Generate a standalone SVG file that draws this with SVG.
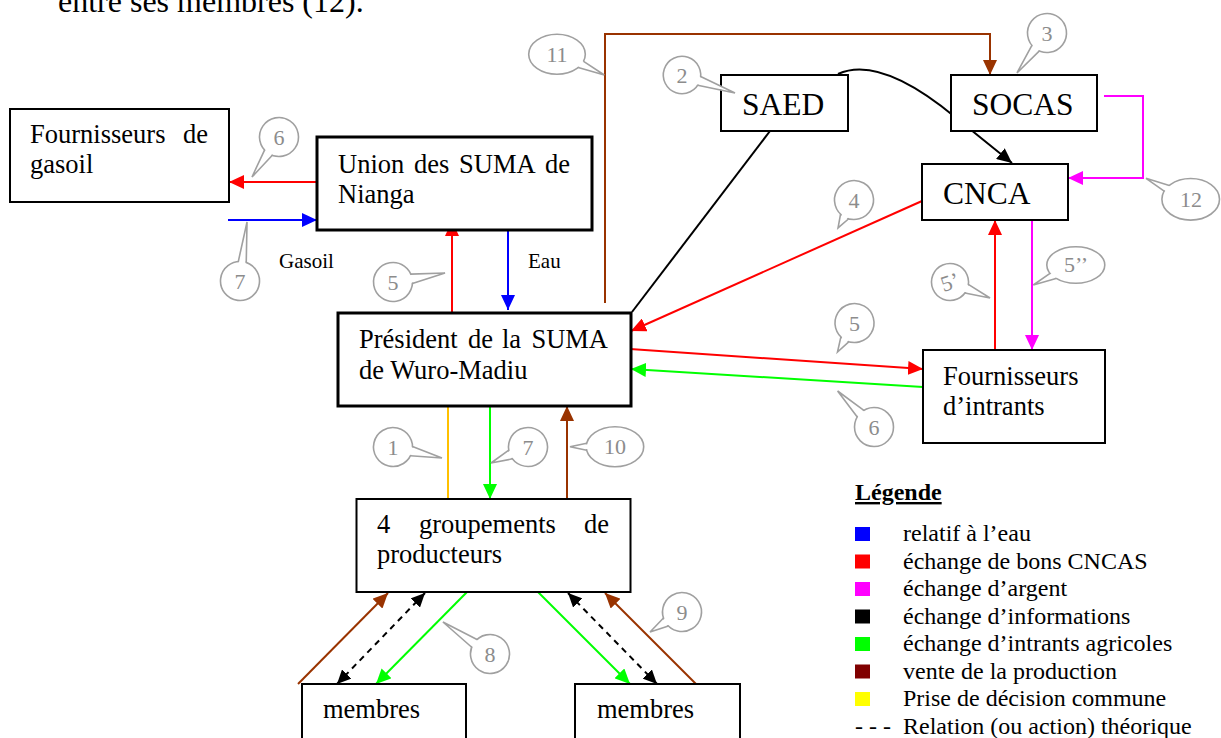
<svg xmlns="http://www.w3.org/2000/svg" width="1221" height="738" viewBox="0 0 1221 738">
<style>
  text { font-family: "Liberation Serif", "Times New Roman", serif; fill: #000; }
  .nt { font-size: 26.5px; }
  .bt { font-size: 31.5px; }
  .sm { font-size: 21px; }
  .lg { font-size: 24px; }
  .box { fill: #fff; stroke: #000; stroke-width: 2; }
  .thick { stroke-width: 3; }
  .cb { fill: #fff; stroke: #a0a0a0; stroke-width: 1.6; }
  .cf { fill: #fff; stroke: none; }
  .cl { fill: none; stroke: #a0a0a0; stroke-width: 1.6; stroke-linejoin: miter; }
  .cn { font-size: 22px; fill: #8c8c8c; text-anchor: middle; }
  .ln { fill: none; stroke-width: 2; }
</style>
<defs>
  <marker id="m-red" viewBox="0 0 15 14" refX="15" refY="7" markerWidth="15" markerHeight="14" markerUnits="userSpaceOnUse" orient="auto"><path d="M0,0L15,7L0,14z" fill="#FF0000"/></marker>
  <marker id="m-blue" viewBox="0 0 15 14" refX="15" refY="7" markerWidth="15" markerHeight="14" markerUnits="userSpaceOnUse" orient="auto"><path d="M0,0L15,7L0,14z" fill="#0000FF"/></marker>
  <marker id="m-mag" viewBox="0 0 15 14" refX="15" refY="7" markerWidth="15" markerHeight="14" markerUnits="userSpaceOnUse" orient="auto"><path d="M0,0L15,7L0,14z" fill="#FF00FF"/></marker>
  <marker id="m-grn" viewBox="0 0 15 14" refX="15" refY="7" markerWidth="15" markerHeight="14" markerUnits="userSpaceOnUse" orient="auto"><path d="M0,0L15,7L0,14z" fill="#00FF00"/></marker>
  <marker id="m-brn" viewBox="0 0 15 14" refX="15" refY="7" markerWidth="15" markerHeight="14" markerUnits="userSpaceOnUse" orient="auto"><path d="M0,0L15,7L0,14z" fill="#993300"/></marker>
  <marker id="m-blk" viewBox="0 0 15 14" refX="15" refY="7" markerWidth="15" markerHeight="14" markerUnits="userSpaceOnUse" orient="auto"><path d="M0,0L15,7L0,14z" fill="#000"/></marker>
  <marker id="m-blk2" viewBox="0 0 15 14" refX="15" refY="7" markerWidth="14" markerHeight="13" markerUnits="userSpaceOnUse" orient="auto-start-reverse"><path d="M0,0L15,7L0,14z" fill="#000"/></marker>
</defs>

<text x="58" y="12" style="font-size:32px">entre ses membres (12).</text>

<g id="connectors">
  <line class="ln" x1="317" y1="182" x2="229" y2="182" stroke="#FF0000" marker-end="url(#m-red)"/>
  <line class="ln" x1="228" y1="220" x2="317" y2="220" stroke="#0000FF" marker-end="url(#m-blue)"/>
  <line class="ln" x1="452" y1="313" x2="452" y2="221" stroke="#FF0000" marker-end="url(#m-red)"/>
  <line class="ln" x1="508" y1="229" x2="508" y2="310" stroke="#0000FF" marker-end="url(#m-blue)"/>
  <polyline class="ln" points="605,303 605,34 990,34 990,75" stroke="#993300" marker-end="url(#m-brn)"/>
  <line class="ln" x1="770" y1="131" x2="632" y2="312" stroke="#000" stroke-width="1.8"/>
  <path class="ln" d="M838,74 Q880,55 955,117 L1012,163" stroke="#000" stroke-width="1.8" marker-end="url(#m-blk)"/>
  <polyline class="ln" points="1104,96 1143,96 1143,178 1068,178" stroke="#FF00FF" marker-end="url(#m-mag)"/>
  <line class="ln" x1="922" y1="201" x2="631" y2="331" stroke="#FF0000" marker-end="url(#m-red)"/>
  <line class="ln" x1="630" y1="349" x2="923" y2="369" stroke="#FF0000" marker-end="url(#m-red)"/>
  <line class="ln" x1="923" y1="387" x2="631" y2="369" stroke="#00FF00" marker-end="url(#m-grn)"/>
  <line class="ln" x1="995" y1="350" x2="995" y2="220" stroke="#FF0000" marker-end="url(#m-red)"/>
  <line class="ln" x1="1032" y1="220" x2="1032" y2="350" stroke="#FF00FF" marker-end="url(#m-mag)"/>
  <line class="ln" x1="448" y1="406" x2="448" y2="499" stroke="#FFC000"/>
  <line class="ln" x1="490" y1="406" x2="490" y2="499" stroke="#00FF00" marker-end="url(#m-grn)"/>
  <line class="ln" x1="567" y1="499" x2="567" y2="406" stroke="#993300" marker-end="url(#m-brn)"/>
  <line class="ln" x1="298" y1="684" x2="388" y2="593" stroke="#993300" marker-end="url(#m-brn)"/>
  <line class="ln" x1="425" y1="593" x2="337" y2="684" stroke="#000" stroke-dasharray="6,5" marker-start="url(#m-blk2)" marker-end="url(#m-blk2)"/>
  <line class="ln" x1="467" y1="592" x2="376" y2="684" stroke="#00FF00" marker-end="url(#m-grn)"/>
  <line class="ln" x1="538" y1="592" x2="630" y2="684" stroke="#00FF00" marker-end="url(#m-grn)"/>
  <line class="ln" x1="568" y1="593" x2="657" y2="684" stroke="#000" stroke-dasharray="6,5" marker-start="url(#m-blk2)" marker-end="url(#m-blk2)"/>
  <line class="ln" x1="696" y1="684" x2="605" y2="593" stroke="#993300" marker-end="url(#m-brn)"/>
</g>

<g id="n-gasoil">
  <rect class="box" x="10" y="109" width="219" height="93"/>
  <text class="nt" x="30" y="143">Fournisseurs</text>
  <text class="nt" x="208" y="143" text-anchor="end">de</text>
  <text class="nt" x="30" y="173">gasoil</text>
</g>
<g id="n-union">
  <rect class="box thick" x="317" y="137" width="275" height="93"/>
  <text class="nt" x="338" y="173">Union</text>
  <text class="nt" x="414" y="173">des</text>
  <text class="nt" x="459" y="173">SUMA</text>
  <text class="nt" x="570" y="173" text-anchor="end">de</text>
  <text class="nt" x="338" y="203">Nianga</text>
</g>
<g id="n-president">
  <rect class="box thick" x="338" y="313" width="293" height="93"/>
  <text class="nt" x="359" y="348">Président</text>
  <text class="nt" x="468" y="348">de</text>
  <text class="nt" x="502" y="348">la</text>
  <text class="nt" x="608" y="348" text-anchor="end">SUMA</text>
  <text class="nt" x="359" y="379">de Wuro-Madiu</text>
</g>
<g id="n-saed">
  <rect class="box" x="721" y="75" width="127" height="56"/>
  <text class="bt" x="742" y="115">SAED</text>
</g>
<g id="n-socas">
  <rect class="box" x="951" y="75" width="146" height="56"/>
  <text class="bt" x="972" y="115">SOCAS</text>
</g>
<g id="n-cnca">
  <rect class="box" x="922" y="164" width="146" height="56"/>
  <text class="bt" x="943" y="204">CNCA</text>
</g>
<g id="n-intrants">
  <rect class="box" x="923" y="350" width="182" height="93"/>
  <text class="nt" x="943" y="385">Fournisseurs</text>
  <text class="nt" x="943" y="415">d’intrants</text>
</g>
<g id="n-groupements">
  <rect class="box" x="356.5" y="499" width="274" height="93"/>
  <text class="nt" x="377" y="533">4</text>
  <text class="nt" x="419" y="533">groupements</text>
  <text class="nt" x="609" y="533" text-anchor="end">de</text>
  <text class="nt" x="377" y="563">producteurs</text>
</g>
<g id="n-membres1">
  <rect class="box" x="302" y="684" width="164" height="80"/>
  <text class="nt" x="323" y="718">membres</text>
</g>
<g id="n-membres2">
  <rect class="box" x="575" y="684" width="165" height="80"/>
  <text class="nt" x="597" y="718">membres</text>
</g>

<g id="labels">
  <text class="sm" x="279" y="268">Gasoil</text>
  <text class="sm" x="528" y="268">Eau</text>
</g>

<g id="callouts">
  <g transform="translate(279,137)"><g transform="rotate(124)"><circle class="cb" r="19.5"/><polygon class="cf" points="15.5,-4.2 48.3,0 15.5,4.2"/><polyline class="cl" points="18.9,-4.7 48.3,0 18.9,4.7"/></g><text class="cn" y="7.5">6</text></g>
  <g transform="translate(240,281)"><g transform="rotate(-83.2)"><circle class="cb" r="19.5"/><polygon class="cf" points="15.5,-3.6 59.4,0 15.5,3.6"/><polyline class="cl" points="19.1,-4 59.4,0 19.1,4"/></g><text class="cn" y="7.5">7</text></g>
  <g transform="translate(393,282)"><g transform="rotate(-9.8)"><circle class="cb" r="19.5"/><polygon class="cf" points="15.5,-4.2 52.8,0 15.5,4.2"/><polyline class="cl" points="18.9,-4.7 52.8,0 18.9,4.7"/></g><text class="cn" y="7.5">5</text></g>
  <g transform="translate(682,75)"><g transform="rotate(18.8)"><circle class="cb" r="18.7"/><polygon class="cf" points="14.8,-4.2 56,0 14.8,4.2"/><polyline class="cl" points="18.1,-4.6 56,0 18.1,4.6"/></g><text class="cn" y="7.5">2</text></g>
  <g transform="translate(1047,33)"><g transform="rotate(126.9)"><circle class="cb" r="19.5"/><polygon class="cf" points="15.5,-4.2 50,0 15.5,4.2"/><polyline class="cl" points="18.9,-4.7 50,0 18.9,4.7"/></g><text class="cn" y="7.5">3</text></g>
  <g transform="translate(854,200)"><g transform="rotate(119.7)"><circle class="cb" r="19.5"/><polygon class="cf" points="15.5,-4.2 32.2,0 15.5,4.2"/><polyline class="cl" points="18.9,-4.7 32.2,0 18.9,4.7"/></g><text class="cn" y="7.5">4</text></g>
  <g transform="translate(950,282)"><g transform="rotate(21.8)"><circle class="cb" r="18.5"/><polygon class="cf" points="14.6,-4.2 43.1,0 14.6,4.2"/><polyline class="cl" points="17.9,-4.6 43.1,0 17.9,4.6"/></g><text class="cn" y="7.5" transform="rotate(-18)">5’</text></g>
  <g transform="translate(854.5,323)"><g transform="rotate(120.4)"><circle class="cb" r="19.5"/><polygon class="cf" points="15.5,-4.2 33.6,0 15.5,4.2"/><polyline class="cl" points="18.9,-4.7 33.6,0 18.9,4.7"/></g><text class="cn" y="7.5">5</text></g>
  <g transform="translate(874,427)"><g transform="rotate(-135.3)"><circle class="cb" r="19.5"/><polygon class="cf" points="15.5,-4.2 51.2,0 15.5,4.2"/><polyline class="cl" points="18.9,-4.7 51.2,0 18.9,4.7"/></g><text class="cn" y="7.5">6</text></g>
  <g transform="translate(393,447)"><g transform="rotate(12.7)"><circle class="cb" r="19.5"/><polygon class="cf" points="15.5,-4.2 50.2,0 15.5,4.2"/><polyline class="cl" points="18.9,-4.7 50.2,0 18.9,4.7"/></g><text class="cn" y="7.5">1</text></g>
  <g transform="translate(528,447)"><g transform="rotate(156.6)"><circle class="cb" r="19.5"/><polygon class="cf" points="15.5,-4.2 40.3,0 15.5,4.2"/><polyline class="cl" points="18.9,-4.7 40.3,0 18.9,4.7"/></g><text class="cn" y="7.5">7</text></g>
  <g transform="translate(490,654)"><g transform="rotate(-145.8)"><circle class="cb" r="19.5"/><polygon class="cf" points="15.5,-4.2 56.9,0 15.5,4.2"/><polyline class="cl" points="18.9,-4.7 56.9,0 18.9,4.7"/></g><text class="cn" y="7.5">8</text></g>
  <g transform="translate(682,612)"><g transform="rotate(148)"><circle class="cb" r="19.5"/><polygon class="cf" points="15.5,-4.2 37.7,0 15.5,4.2"/><polyline class="cl" points="18.9,-4.7 37.7,0 18.9,4.7"/></g><text class="cn" y="7.5">9</text></g>
  <g>
    <ellipse class="cb" cx="557" cy="54.3" rx="28.3" ry="20"/>
    <polygon class="cf" points="575.8,65.8 604.3,75 581.2,60.2"/>
    <polyline class="cl" points="578.2,67.6 604.3,75 583.6,61.3"/>
    <text class="cn" x="557" y="62">11</text>
  </g>
  <g>
    <ellipse class="cb" cx="615" cy="446.7" rx="28.7" ry="20"/>
    <polygon class="cf" points="589.5,449.5 570,446.7 589.5,443.9"/>
    <polyline class="cl" points="586.7,450.2 570,446.7 586.7,443.2"/>
    <text class="cn" x="615" y="454">10</text>
  </g>
  <g>
    <ellipse class="cb" cx="1190.7" cy="199.3" rx="28.8" ry="20.8"/>
    <polygon class="cf" points="1167.1,192.1 1146,178.3 1171.8,187"/>
    <polyline class="cl" points="1164.2,191.2 1146,178.3 1169.3,185.4"/>
    <text class="cn" x="1191" y="207">12</text>
  </g>
  <g>
    <ellipse class="cb" cx="1075.8" cy="265" rx="29" ry="18.3"/>
    <polygon class="cf" points="1058.5,276.7 1033.3,285 1052.9,272.4"/>
    <polyline class="cl" points="1056,278.4 1033.3,285 1050,273.3"/>
    <text class="cn" x="1076" y="272">5’’</text>
  </g>
</g>

<g id="legend">
  <text class="lg" x="855" y="500" font-weight="bold" text-decoration="underline">Légende</text>
  <rect x="855" y="527" width="15" height="14" fill="#0000FF"/>
  <text class="lg" x="903" y="541">relatif à l’eau</text>
  <rect x="855" y="554.5" width="15" height="14" fill="#FF0000"/>
  <text class="lg" x="903" y="568.5">échange de bons CNCAS</text>
  <rect x="855" y="582" width="15" height="14" fill="#FF00FF"/>
  <text class="lg" x="903" y="596">échange d’argent</text>
  <rect x="855" y="609.5" width="15" height="14" fill="#000000"/>
  <text class="lg" x="903" y="623.5">échange d’informations</text>
  <rect x="855" y="637" width="15" height="14" fill="#00FF00"/>
  <text class="lg" x="903" y="651">échange d’intrants agricoles</text>
  <rect x="855" y="664.5" width="15" height="14" fill="#800000"/>
  <text class="lg" x="903" y="678.5">vente de la production</text>
  <rect x="855" y="692" width="15" height="14" fill="#FFFF00"/>
  <text class="lg" x="903" y="706">Prise de décision commune</text>
  <text class="lg" x="855" y="733.5">- - -</text>
  <text class="lg" x="903" y="733.5">Relation (ou action) théorique</text>
</g>
</svg>
